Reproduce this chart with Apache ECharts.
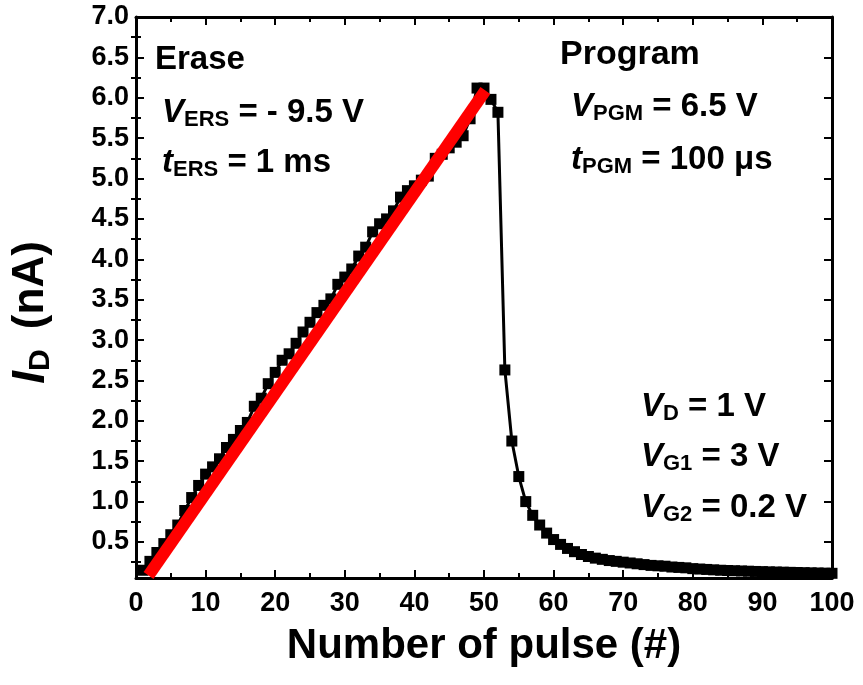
<!DOCTYPE html>
<html>
<head>
<meta charset="utf-8">
<script src="https://cdn.jsdelivr.net/npm/echarts@6/dist/echarts.min.js"></script>
<style>
html,body{margin:0;padding:0;background:#fff;}
#chart{width:863px;height:685px;}
</style>
</head>
<body>
<div id="chart"></div>
<script>
// ---- data ----
const pulses = [1,2,3,4,5,6,7,8,9,10,11,12,13,14,15,16,17,18,19,20,
  21,22,23,24,25,26,27,28,29,30,31,32,33,34,35,36,37,38,39,40,
  41,42,43,44,45,46,47,48,49,50,51,52,53,54,55,56,57,58,59,60,
  61,62,63,64,65,66,67,68,69,70,71,72,73,74,75,76,77,78,79,80,
  81,82,83,84,85,86,87,88,89,90,91,92,93,94,95,96,97,98,99,100];
const currentNA = [0.15,0.26,0.37,0.48,0.59,0.71,0.89,1.05,1.20,1.34,
  1.43,1.53,1.67,1.77,1.88,1.98,2.18,2.28,2.46,2.60,
  2.75,2.83,2.96,3.10,3.22,3.34,3.43,3.51,3.69,3.78,
  3.88,4.04,4.15,4.34,4.44,4.50,4.60,4.77,4.85,4.91,
  4.98,5.03,5.25,5.30,5.38,5.45,5.53,5.74,6.12,6.12,
  5.98,5.82,2.63,1.75,1.31,1.00,0.83,0.71,0.61,0.53,
  0.47,0.42,0.38,0.345,0.32,0.30,0.285,0.27,0.26,0.25,
  0.24,0.23,0.22,0.21,0.205,0.20,0.19,0.185,0.18,0.17,
  0.165,0.16,0.155,0.15,0.147,0.144,0.141,0.138,0.135,0.133,
  0.13,0.128,0.126,0.124,0.122,0.12,0.118,0.116,0.114,0.112];
const fitX = [1.8, 50.2];
const fitY = [0.085, 6.09];
const yTickLabels = ['0.5','1.0','1.5','2.0','2.5','3.0','3.5','4.0','4.5','5.0','5.5','6.0','6.5','7.0'];
const yMinorTicks = [0.25,0.75,1.25,1.75,2.25,2.75,3.25,3.75,4.25,4.75,5.25,5.75,6.25,6.75];
const xTickLabels = ['0','10','20','30','40','50','60','70','80','90','100'];

// ---- chart ----
const FONT = '"Liberation Sans", Arial, sans-serif';
const yMajor = yTickLabels.map(Number);
const chart = echarts.init(document.getElementById('chart'), null, {renderer:'canvas'});
const lineW = 3;
const axisBase = {
  axisLine:{show:true, onZero:false, lineStyle:{color:'#000', width:lineW}},
  splitLine:{show:false}
};
function xAx(pos, showLabel){
  return Object.assign({}, axisBase, {
    type:'value', position:pos, min:0, max:100, interval:10,
    axisTick:{show:true, inside:true, length:8, lineStyle:{color:'#000', width:2}},
    minorTick:{show:true, splitNumber:2, length:5, lineStyle:{color:'#000', width:2}},
    axisLabel:{show:showLabel, margin:12, color:'#000', fontFamily:FONT, fontWeight:'bold', fontSize:27,
      formatter:function(v){ const i = Math.round(v/10); return xTickLabels[i] !== undefined ? xTickLabels[i] : ''; }},
  });
}
function yAx(pos, showLabel, showLine){
  return Object.assign({}, axisBase, {
    type:'value', position:pos, min:0.054, max:7.0,
    axisLine:{show:showLine, onZero:false, lineStyle:{color:'#000', width:lineW}},
    axisTick:{show:true, inside:true, length:8, customValues:yMajor, lineStyle:{color:'#000', width:2}},
    axisLabel:{show:showLabel, margin:7, color:'#000', fontFamily:FONT, fontWeight:'bold', fontSize:27,
      customValues:yMajor, formatter:function(v){ return v.toFixed(1); }},
  });
}
function yMinorAx(pos){
  return {
    type:'value', position:pos, min:0.054, max:7.0,
    axisLine:{show:false}, splitLine:{show:false}, axisLabel:{show:false},
    axisTick:{show:true, inside:true, length:5, customValues:yMinorTicks, lineStyle:{color:'#000', width:2}}
  };
}
const x0 = xAx('bottom', true);
x0.name = 'Number of pulse (#)';
x0.nameLocation = 'middle';
x0.nameGap = 47;
x0.nameTextStyle = {color:'#000', fontFamily:FONT, fontWeight:'bold', fontSize:42};
const y0 = yAx('left', true, true);
y0.name = '{i|I}{s|D}{n| (nA)}';
y0.nameLocation = 'middle';
y0.nameGap = 80;
y0.nameTextStyle = {color:'#000', rich:{
  i:{fontFamily:FONT, fontWeight:'bold', fontStyle:'italic', fontSize:46, color:'#000'},
  s:{fontFamily:FONT, fontWeight:'bold', fontSize:30, color:'#000', padding:[20,8,0,0]},
  n:{fontFamily:FONT, fontWeight:'bold', fontSize:44, color:'#000', padding:[0,30,0,0]}
}};

function annot(x, y, main, sub, rest, size){
  return {
    type:'text', x:x, y:y, z:100,
    style:{
      text:'{i|' + main + '}' + (sub ? '{s|' + sub + '}' : '') + '{n|' + rest + '}',
      verticalAlign:'middle', align:'left',
      rich:{
        i:{fontFamily:FONT, fontWeight:'bold', fontStyle:'italic', fontSize:size, fill:'#000', color:'#000'},
        s:{fontFamily:FONT, fontWeight:'bold', fontSize:Math.round(size*0.68), fill:'#000', color:'#000', padding:[Math.round(size*0.42),0,0,0]},
        n:{fontFamily:FONT, fontWeight:'bold', fontSize:size, fill:'#000', color:'#000'}
      }
    }
  };
}
function plain(x, y, t, size){
  return {type:'text', x:x, y:y, z:100, style:{text:t, fill:'#000', font:'bold ' + size + 'px ' + FONT, verticalAlign:'middle', align:'left'}};
}

chart.setOption({
  animation:false,
  backgroundColor:'#fff',
  grid:{left:134, right:31, top:17, bottom:107, containLabel:false},
  xAxis:[x0, xAx('top', false)],
  yAxis:[y0, yAx('right', false, true), yMinorAx('left'), yMinorAx('right')],
  series:[
    {
      type:'line', xAxisIndex:0, yAxisIndex:0,
      data: pulses.map((p,i)=>[p, currentNA[i]]),
      symbol:'rect', symbolSize:11, showSymbol:true,
      itemStyle:{color:'#000'}, lineStyle:{color:'#000', width:3},
      clip:false, z:2
    },
    {
      type:'line', xAxisIndex:0, yAxisIndex:0,
      data: fitX.map((x,i)=>[x, fitY[i]]),
      symbol:'none', lineStyle:{color:'#ff0000', width:12, cap:'butt'},
      clip:false, z:3
    }
  ],
  graphic:[
    plain(155, 60, 'Erase', 33),
    annot(162, 113, 'V', 'ERS', ' = - 9.5 V', 33),
    annot(162, 163, 't', 'ERS', ' = 1 ms', 33),
    plain(560, 55, 'Program', 34),
    annot(571, 107, 'V', 'PGM', ' = 6.5 V', 33),
    annot(571, 160, 't', 'PGM', ' = 100 \u03bcs', 33),
    annot(641, 407, 'V', 'D', ' = 1 V', 33),
    annot(641, 457, 'V', 'G1', ' = 3 V', 33),
    annot(641, 508, 'V', 'G2', ' = 0.2 V', 33)
  ]
});
</script>
</body>
</html>
